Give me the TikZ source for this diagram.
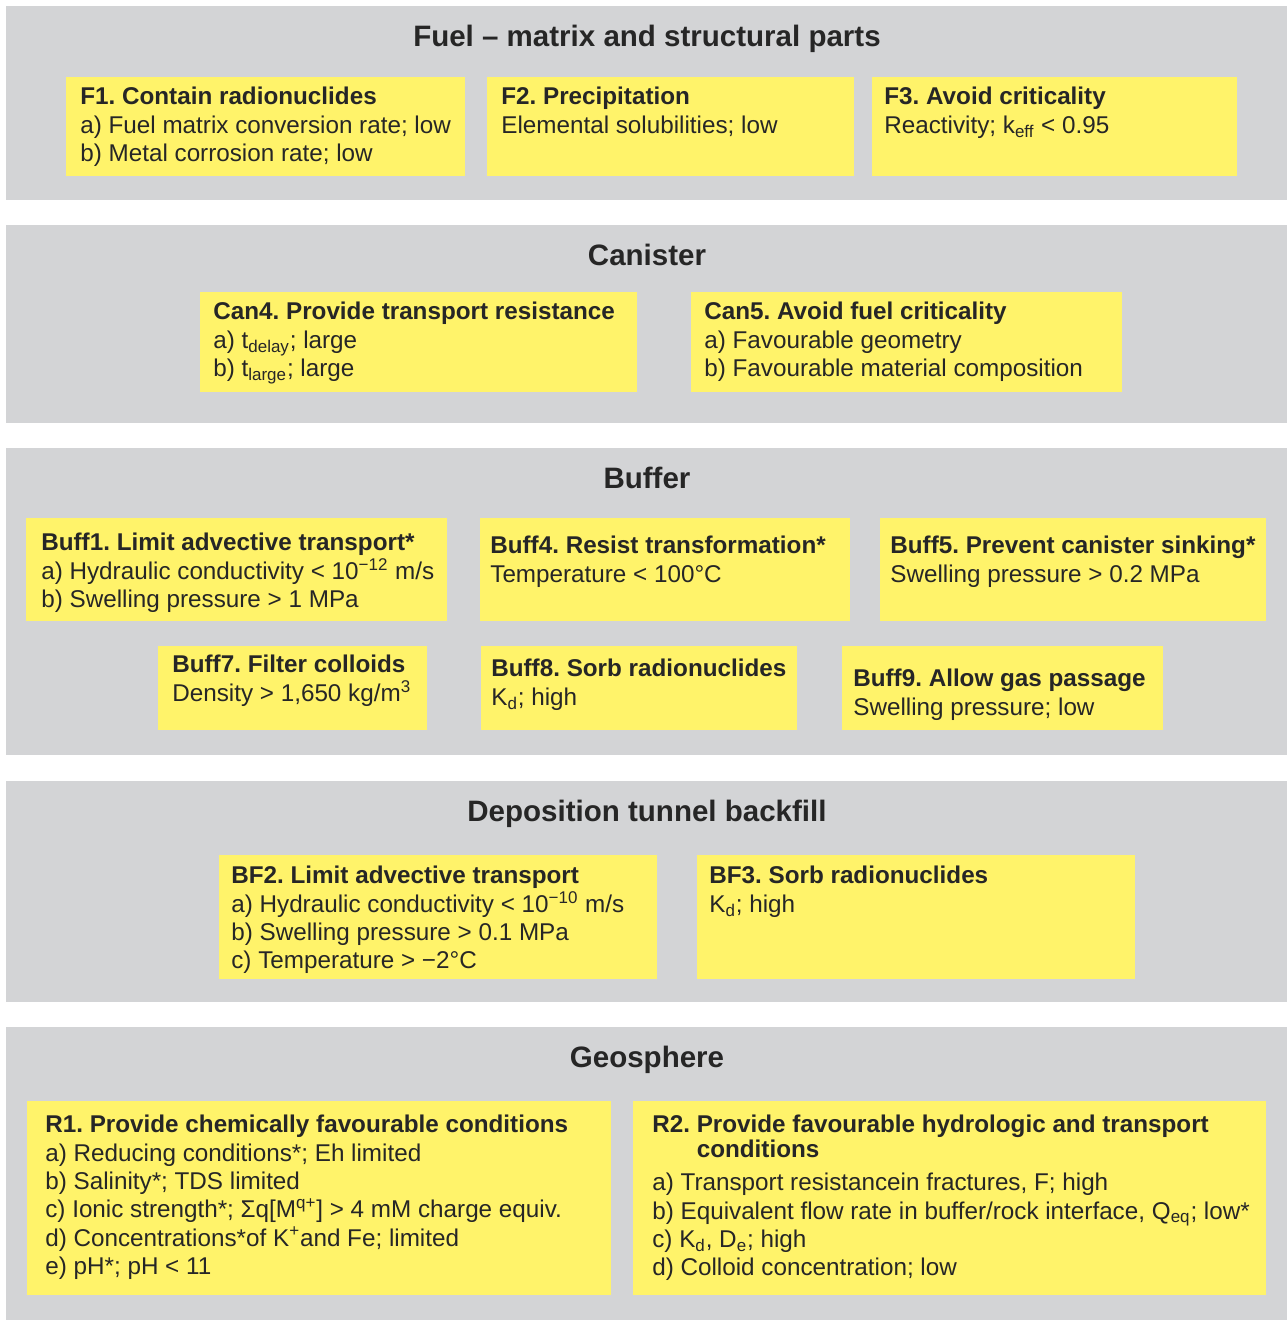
\documentclass[tikz,border=0pt]{standalone}
\usepackage{fontspec}
\setmainfont{Liberation Sans}
\usetikzlibrary{fit}
\frenchspacing

\definecolor{bandgray}{RGB}{211,212,214}
\definecolor{reqyellow}{RGB}{255,243,106}
\definecolor{inkdark}{RGB}{38,38,38}

\begin{document}
\begin{tikzpicture}[x=0.02cm, y=-0.02cm,
    band/.style={fill=bandgray, inner sep=0pt},
    reqbox/.style={fill=reqyellow, inner sep=0pt},
    bandtitle/.style={anchor=base, inner sep=0pt, text=inkdark,
        font=\fontsize{16.8}{20}\selectfont\bfseries},
    reqtext/.style={anchor=north west, inner sep=0pt, align=left, text=inkdark,
        font=\fontsize{13.8}{16.1}\selectfont}]
    \useasboundingbox (0,0) rectangle (1287,1320);

    \foreach \name/\top/\bot/\title in {fuel/6/200/{Fuel -- matrix and structural parts},
        canister/225/423/Canister, buffer/448/755/Buffer,
        backfill/781/1002/Deposition tunnel backfill, geosphere/1027/1320/Geosphere} {
        \node[band, fit={(6,\top) (1287,\bot)}] (\name) {};
        \node[bandtitle] (\name-title) at (647,\top+40.5) {\title};
    }

    \node[reqbox, fit={(66,77) (465,176)}] (f1) {};
    \node[reqbox, fit={(487,77) (854,176)}] (f2) {};
    \node[reqbox, fit={(872,77) (1237,176)}] (f3) {};
    \node[reqtext] (f1-text) at (80,87) {\textbf{F1. Contain radionuclides}\\
        a) Fuel matrix conversion rate; low\\
        b) Metal corrosion rate; low};
    \node[reqtext] (f2-text) at (501,87) {\textbf{F2. Precipitation}\\
        Elemental solubilities; low};
    \node[reqtext] (f3-text) at (884,87) {\textbf{F3. Avoid criticality}\\
        Reactivity; k\textsubscript{eff} < 0.95};

    \node[reqbox, fit={(200,292) (637,392)}] (can4) {};
    \node[reqbox, fit={(691,292) (1122,392)}] (can5) {};
    \node[reqtext] (can4-text) at (213,302) {\textbf{Can4. Provide transport resistance}\\
        a) t\textsubscript{delay}; large\\
        b) t\textsubscript{large}; large};
    \node[reqtext] (can5-text) at (704,302) {\textbf{Can5. Avoid fuel criticality}\\
        a) Favourable geometry\\
        b) Favourable material composition};

    \node[reqbox, fit={(26,518) (447,621)}] (buff1) {};
    \node[reqbox, fit={(480,518) (850,621)}] (buff4) {};
    \node[reqbox, fit={(880,518) (1266,621)}] (buff5) {};
    \node[reqbox, fit={(158,646) (427,730)}] (buff7) {};
    \node[reqbox, fit={(481,646) (797,730)}] (buff8) {};
    \node[reqbox, fit={(842,646) (1163,730)}] (buff9) {};
    \node[reqtext] (buff1-text) at (41,533) {\textbf{Buff1. Limit advective transport*}\\
        a) Hydraulic conductivity < 10\textsuperscript{−12} m/s\\
        b) Swelling pressure > 1 MPa};
    \node[reqtext] (buff4-text) at (490,536) {\textbf{Buff4. Resist transformation*}\\
        Temperature < 100°C};
    \node[reqtext] (buff5-text) at (890,536) {\textbf{Buff5. Prevent canister sinking*}\\
        Swelling pressure > 0.2 MPa};
    \node[reqtext] (buff7-text) at (172,655) {\textbf{Buff7. Filter colloids}\\
        Density > 1,650 kg/m\textsuperscript{3}};
    \node[reqtext] (buff8-text) at (491,659) {\textbf{Buff8. Sorb radionuclides}\\
        K\textsubscript{d}; high};
    \node[reqtext] (buff9-text) at (853,669) {\textbf{Buff9. Allow gas passage}\\
        Swelling pressure; low};

    \node[reqbox, fit={(219,855) (657,979)}] (bf2) {};
    \node[reqbox, fit={(697,855) (1135,979)}] (bf3) {};
    \node[reqtext] (bf2-text) at (231,866) {\textbf{BF2. Limit advective transport}\\
        a) Hydraulic conductivity < 10\textsuperscript{−10} m/s\\
        b) Swelling pressure > 0.1 MPa\\
        c) Temperature > −2°C};
    \node[reqtext] (bf3-text) at (709,866) {\textbf{BF3. Sorb radionuclides}\\
        K\textsubscript{d}; high};

    \node[reqbox, fit={(27,1101) (611,1295)}] (r1) {};
    \node[reqbox, fit={(633,1101) (1266,1295)}] (r2) {};
    \node[reqtext] (r1-text) at (45,1115) {\textbf{R1. Provide chemically favourable conditions}\\
        a) Reducing conditions*; Eh limited\\
        b) Salinity*; TDS limited\\
        c) Ionic strength*; Σq[M\textsuperscript{q+}] > 4 mM charge equiv.\\
        d) Concentrations*of K\textsuperscript{+}and Fe; limited\\
        e) pH*; pH < 11};
    \node[reqtext] (r2-text) at (652,1115) {\textbf{R2. Provide favourable hydrologic and transport}\\[-2.4pt]
        \textbf{\phantom{R2. }conditions}\\[3.2pt]
        a) Transport resistancein fractures, F; high\\
        b) Equivalent flow rate in buffer/rock interface, Q\textsubscript{eq}; low*\\
        c) K\textsubscript{d}, D\textsubscript{e}; high\\
        d) Colloid concentration; low};
\end{tikzpicture}
\end{document}
